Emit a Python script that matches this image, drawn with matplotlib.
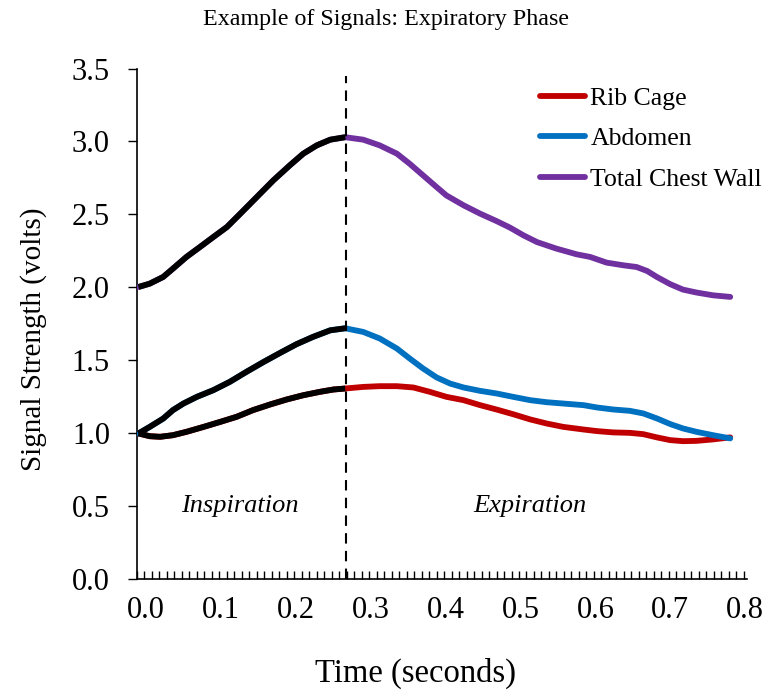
import matplotlib
matplotlib.use('Agg')
from matplotlib import pyplot as plt
from matplotlib.ticker import MultipleLocator
import matplotlib.transforms as mtransforms

plt.rcParams['font.family'] = 'Liberation Serif'

# time (s) and signal (V) for each trace
t_rib = [0.002, 0.017, 0.031, 0.048, 0.066, 0.089, 0.111, 0.133, 0.155,
         0.178, 0.200, 0.222, 0.244, 0.262, 0.278, 0.302, 0.324, 0.347,
         0.369, 0.391, 0.413, 0.436, 0.458, 0.480, 0.502, 0.525, 0.547,
         0.569, 0.596, 0.614, 0.636, 0.658, 0.676, 0.694, 0.712, 0.729,
         0.747, 0.769, 0.792]
rib = [0.998, 0.979, 0.975, 0.986, 1.009, 1.043, 1.077, 1.112, 1.158,
       1.197, 1.231, 1.260, 1.283, 1.299, 1.306, 1.317, 1.322, 1.322,
       1.313, 1.283, 1.249, 1.226, 1.192, 1.162, 1.130, 1.094, 1.066,
       1.043, 1.025, 1.014, 1.005, 1.002, 0.993, 0.971, 0.952, 0.945,
       0.947, 0.957, 0.971]

t_abd = [0.002, 0.017, 0.035, 0.048, 0.062, 0.080, 0.102, 0.124, 0.146,
         0.169, 0.191, 0.213, 0.235, 0.258, 0.278, 0.302, 0.324, 0.347,
         0.364, 0.382, 0.400, 0.418, 0.436, 0.458, 0.480, 0.502, 0.525,
         0.547, 0.569, 0.596, 0.614, 0.636, 0.658, 0.676, 0.694, 0.712,
         0.729, 0.747, 0.769, 0.792]
abd = [0.998, 1.043, 1.100, 1.158, 1.203, 1.249, 1.295, 1.352, 1.420,
       1.488, 1.550, 1.610, 1.660, 1.705, 1.719, 1.694, 1.649, 1.580,
       1.512, 1.443, 1.382, 1.340, 1.313, 1.290, 1.272, 1.249, 1.226,
       1.212, 1.203, 1.192, 1.176, 1.162, 1.153, 1.135, 1.101, 1.062,
       1.032, 1.009, 0.986, 0.964]

t_tcw = [0.002, 0.017, 0.035, 0.048, 0.066, 0.084, 0.102, 0.120, 0.138,
         0.160, 0.182, 0.204, 0.222, 0.240, 0.258, 0.278, 0.302, 0.324,
         0.347, 0.364, 0.382, 0.400, 0.413, 0.436, 0.458, 0.480, 0.498,
         0.516, 0.534, 0.560, 0.587, 0.605, 0.627, 0.649, 0.667, 0.681,
         0.694, 0.712, 0.729, 0.747, 0.769, 0.792]
tcw = [2.002, 2.025, 2.071, 2.128, 2.208, 2.276, 2.345, 2.413, 2.505,
       2.619, 2.733, 2.836, 2.916, 2.973, 3.012, 3.029, 3.012, 2.973,
       2.916, 2.847, 2.767, 2.687, 2.630, 2.562, 2.505, 2.454, 2.409,
       2.356, 2.310, 2.265, 2.226, 2.208, 2.169, 2.151, 2.139, 2.112,
       2.071, 2.021, 1.984, 1.964, 1.945, 1.934]

t_switch = 0.279
x_ticks = [0.0, 0.1, 0.2, 0.3, 0.4, 0.5, 0.6, 0.7, 0.8]
y_ticks = [0.0, 0.5, 1.0, 1.5, 2.0, 2.5, 3.0, 3.5]

series = [('Rib Cage', t_rib, rib, '#C00000'),
          ('Abdomen', t_abd, abd, '#0070C0'),
          ('Total Chest Wall', t_tcw, tcw, '#7030A0')]

fig = plt.figure(figsize=(7.73, 6.94), dpi=100)
ax = fig.add_axes([137 / 773, 1 - 579 / 694, 610 / 773, 510.5 / 694])

lw = 4.2
for name, t, v, c in series:
    ax.plot(t, v, color=c, lw=lw, label=name, solid_capstyle='round',
            solid_joinstyle='round', zorder=3)
# inspiratory part drawn in black on top
for name, t, v, c in series:
    ti = [a for a in t if a <= t_switch]
    vi = v[:len(ti)]
    ax.plot(ti, vi, color='black', lw=lw, solid_capstyle='butt',
            solid_joinstyle='round', zorder=4)

ax.plot([t_switch, t_switch], [0, 3.45], color='black', lw=1.5,
        dashes=(5, 3.5), zorder=5)

ax.text(0.1375, 0.5, 'Inspiration', fontsize=19, style='italic',
        ha='center', va='center')
ax.text(0.525, 0.5, 'Expiration', fontsize=19, style='italic',
        ha='center', va='center')

ax.set_xlim(0, 0.8144)
ax.set_ylim(0, 3.5)
ax.set_xticks(x_ticks)
ax.set_xticklabels(['%.1f' % x for x in x_ticks])
ax.set_yticks(y_ticks)
ax.set_yticklabels(['%.1f' % y for y in y_ticks])
ax.xaxis.set_minor_locator(MultipleLocator(0.01))
ax.xaxis.remove_overlapping_locs = False
ax.tick_params(axis='x', which='major', length=0, pad=12, labelsize=22)
ax.tick_params(axis='x', which='minor', direction='in', length=6, width=1)
ax.tick_params(axis='y', which='major', direction='out', length=6.5,
               width=1, pad=13, labelsize=22)

shift = mtransforms.ScaledTranslation(9 / 100, 0, fig.dpi_scale_trans)
for lab in ax.get_xticklabels():
    lab.set_transform(lab.get_transform() + shift)

for s in ['top', 'right']:
    ax.spines[s].set_visible(False)
for s in ['left', 'bottom']:
    ax.spines[s].set_linewidth(1.2)

ax.set_xlabel('Time (seconds)', fontsize=23.5)
ax.xaxis.set_label_coords(0.456, -0.155)
ax.set_ylabel('Signal Strength (volts)', fontsize=21)
ax.yaxis.set_label_coords(-0.148, 0.47)

fig.text(386 / 773, 1 - 20 / 694, 'Example of Signals: Expiratory Phase',
         fontsize=17.3, ha='center', va='center')

ax.legend(loc='upper left', bbox_to_anchor=(530 / 773, 1 - 77 / 694),
          bbox_transform=fig.transFigure, frameon=False, fontsize=18.5,
          handlelength=1.75, handletextpad=0.2, labelspacing=0.67,
          borderaxespad=0)

plt.savefig('out.png', dpi=100)
